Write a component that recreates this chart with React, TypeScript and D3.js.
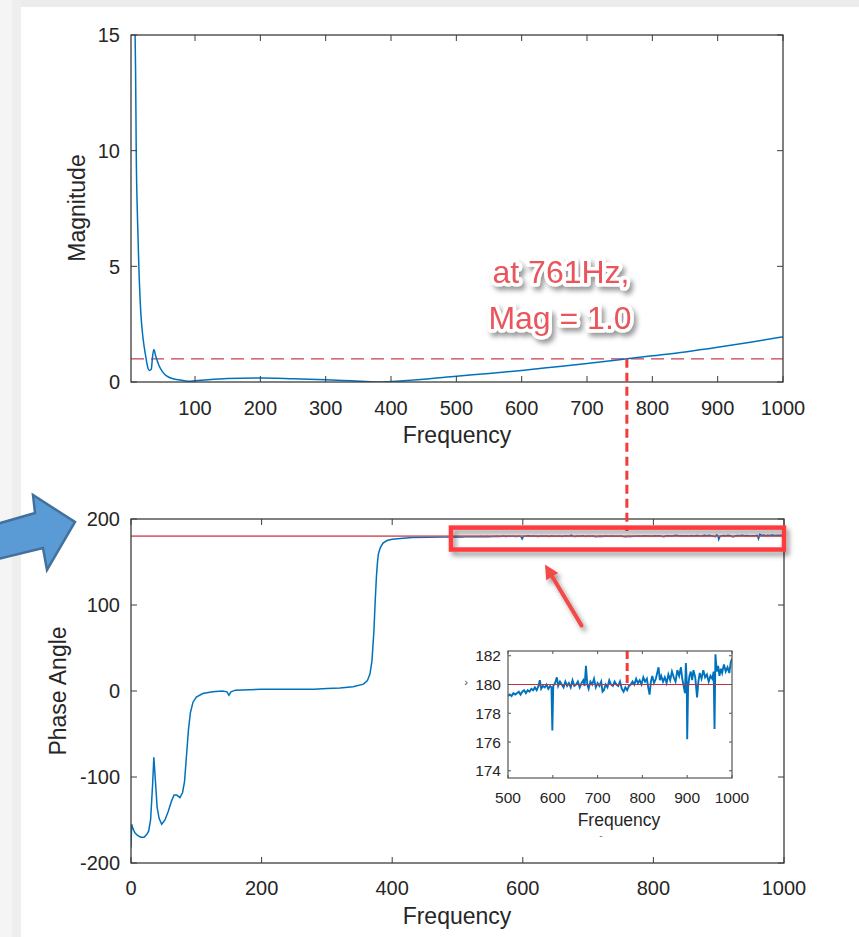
import { useEffect, useRef } from "react";
import * as d3 from "d3";

// magnitude response: [frequency, magnitude]
const magnitude: [number, number][] = [
  [8, 15.5], [9, 13.5], [10, 10], [12, 7], [14, 5], [17, 3], [20, 2], [24, 1.2], [28, 0.6], [30, 0.5],
  [33, 0.55], [35, 1.1], [37, 1.4], [40, 1.1], [45, 0.7], [50, 0.45], [57, 0.25], [65, 0.15], [75, 0.1], [90, 0.03],
  [100, 0.05], [120, 0.1], [150, 0.15], [200, 0.17], [250, 0.14], [300, 0.1], [340, 0.05], [380, 0.0], [400, 0.02], [450, 0.12],
  [500, 0.25], [550, 0.37], [600, 0.5], [650, 0.65], [700, 0.8], [761, 1.0], [800, 1.13], [850, 1.3], [900, 1.5], [950, 1.72],
  [1000, 1.95],
];

// phase below 500 Hz: [frequency, degrees]
const phaseLow: [number, number][] = [
  [0, -182], [1, -155], [3, -160], [6, -165], [10, -168], [15, -170], [20, -170], [24, -167], [27, -163], [30, -150],
  [33, -110], [35, -77], [37, -100], [40, -135], [43, -148], [47, -155], [52, -150], [57, -140], [62, -128], [66, -121],
  [70, -121], [75, -124], [79, -118], [82, -105], [85, -75], [88, -45], [91, -25], [95, -13], [100, -7], [110, -3],
  [125, -1], [140, 0], [147, -1], [150, -5], [153, -1], [160, 1], [200, 2], [250, 2], [280, 2], [300, 3],
  [320, 3.5], [340, 5], [356, 8], [362, 12], [366, 20], [369, 35], [372, 70], [374, 105], [376, 135], [377.5, 150],
  [379, 160], [382, 167], [386, 172], [392, 175], [400, 176.5], [430, 178.5], [480, 179.1], [496, 179.2],
];

// phase 500-1000 Hz (also shown in the inset)
const phaseHigh: [number, number][] = [
  [500, 179.2], [504, 179.3], [508, 179.2], [512, 179.4], [516, 179.3], [520, 179.4], [524, 179.5], [528, 179.3], [532, 179.5], [536, 179.6],
  [540, 179.4], [544, 179.6], [548, 179.5], [552, 179.7], [556, 179.6], [560, 179.8], [564, 179.6], [568, 179.9], [571, 180.3], [574, 179.7],
  [578, 179.9], [582, 179.8], [586, 180.0], [590, 179.7], [594, 179.9], [597, 179.8], [599, 176.8], [601, 179.9], [605, 180.1], [609, 180.5],
  [612, 179.9], [616, 180.2], [620, 180.0], [624, 179.8], [628, 180.2], [632, 179.9], [636, 180.1], [640, 179.8], [644, 180.3], [648, 179.9],
  [652, 180.0], [656, 180.2], [660, 179.8], [664, 180.1], [668, 180.3], [671, 179.9], [674, 181.3], [677, 180.0], [680, 179.7], [684, 180.2],
  [688, 180.0], [692, 180.4], [696, 179.8], [700, 180.1], [704, 179.9], [708, 180.2], [711, 179.5], [714, 179.6], [718, 180.0], [722, 179.8],
  [726, 180.3], [730, 180.0], [734, 179.9], [738, 180.2], [742, 180.0], [746, 179.9], [750, 180.2], [754, 179.7], [758, 179.5], [762, 179.8],
  [766, 179.6], [770, 179.9], [774, 180.0], [778, 180.2], [782, 180.0], [786, 180.4], [790, 180.1], [794, 180.3], [798, 180.0], [802, 180.5],
  [806, 180.2], [810, 180.4], [813, 179.8], [816, 179.3], [819, 180.2], [822, 180.6], [826, 180.1], [830, 180.4], [833, 180.8], [836, 181.2],
  [839, 180.3], [842, 180.6], [846, 180.2], [850, 180.5], [854, 180.1], [858, 180.7], [862, 180.3], [866, 180.9], [870, 180.5], [874, 180.2],
  [878, 181.0], [882, 180.6], [886, 181.2], [889, 180.4], [892, 179.9], [895, 179.4], [897, 181.5], [899, 180.2], [900, 176.2], [902, 179.8],
  [905, 180.6], [908, 180.9], [911, 180.3], [914, 181.0], [918, 180.5], [922, 179.1], [925, 180.2], [928, 180.8], [932, 180.4], [936, 181.0],
  [940, 180.5], [944, 180.7], [948, 180.2], [952, 180.6], [956, 180.4], [959, 180.9], [961, 176.9], [963, 182.1], [966, 180.9], [969, 181.3],
  [972, 180.6], [975, 181.1], [978, 180.8], [982, 181.4], [986, 180.9], [990, 181.2], [994, 180.8], [997, 181.5], [1000, 181.8],
];

const magXTicks = [100, 200, 300, 400, 500, 600, 700, 800, 900, 1000];
const magYTicks = [0, 5, 10, 15];
const phaseXTicks = [0, 200, 400, 600, 800, 1000];
const phaseYTicks = [-200, -100, 0, 100, 200];
const insetXTicks = [500, 600, 700, 800, 900, 1000];
const insetYTicks = [174, 176, 178, 180, 182];

const markFreq = 761;
const markMag = 1.0;
const refPhase = 180;
const boxFreq = [490, 1000];
const boxPhase = [164.5, 190];

const W = 859;
const H = 937;
const FONT = "'Liberation Sans', Arial, Helvetica, sans-serif";
const BLUE = "#0072BD";
const AXIS = "#3c3c3c";
const TEXT = "#262626";

type Sel = d3.Selection<SVGGElement, unknown, null, undefined>;

function frame(
  g: Sel,
  x: d3.ScaleLinear<number, number>,
  y: d3.ScaleLinear<number, number>,
  xTicks: number[],
  yTicks: number[],
  o: { tick: number; font: number; xOff: number; yOff: number; color: string; stroke: number }
) {
  const [x0, x1] = x.range();
  const [y0, y1] = y.range();
  xTicks.forEach((t) => {
    const px = x(t);
    g.append("line").attr("x1", px).attr("x2", px).attr("y1", y0).attr("y2", y0 - o.tick).attr("stroke", o.color);
    g.append("line").attr("x1", px).attr("x2", px).attr("y1", y1).attr("y2", y1 + o.tick).attr("stroke", o.color);
    g.append("text").attr("x", px).attr("y", y0 + o.xOff).attr("text-anchor", "middle")
      .attr("font-size", o.font).attr("fill", TEXT).text(t);
  });
  yTicks.forEach((t) => {
    const py = y(t);
    g.append("line").attr("x1", x0).attr("x2", x0 + o.tick).attr("y1", py).attr("y2", py).attr("stroke", o.color);
    g.append("line").attr("x1", x1).attr("x2", x1 - o.tick).attr("y1", py).attr("y2", py).attr("stroke", o.color);
    g.append("text").attr("x", x0 - o.yOff).attr("y", py).attr("dy", "0.36em").attr("text-anchor", "end")
      .attr("font-size", o.font).attr("fill", TEXT).text(t);
  });
  g.append("rect").attr("x", x0).attr("y", y1).attr("width", x1 - x0).attr("height", y0 - y1)
    .attr("fill", "none").attr("stroke", o.color).attr("stroke-width", o.stroke);
}

export default function App() {
  const svgRef = useRef<SVGSVGElement | null>(null);

  useEffect(() => {
    if (!svgRef.current) return;
    const svg = d3.select(svgRef.current);
    svg.selectAll("*").remove();

    const defs = svg.append("defs");
    const sh = defs.append("filter").attr("id", "shadow")
      .attr("x", "-30%").attr("y", "-60%").attr("width", "160%").attr("height", "220%");
    sh.append("feDropShadow").attr("dx", 3).attr("dy", 4).attr("stdDeviation", 2.5)
      .attr("flood-color", "#000").attr("flood-opacity", 0.4);

    // page background / screenshot frame
    svg.append("rect").attr("width", W).attr("height", H).attr("fill", "#fff");
    svg.append("rect").attr("width", W).attr("height", 7).attr("fill", "#ececec");
    svg.append("rect").attr("width", 12).attr("height", H).attr("fill", "#f5f5f5");
    svg.append("rect").attr("x", 12).attr("width", 9).attr("height", H).attr("fill", "#eeeeee");

    const root = svg.append("g").attr("font-family", FONT);

    // ---------- upper panel: magnitude ----------
    const xT = d3.scaleLinear().domain([2, 1000]).range([131, 783]);
    const yT = d3.scaleLinear().domain([0, 15]).range([382, 35]);

    defs.append("clipPath").attr("id", "clipTop").append("rect")
      .attr("x", 131).attr("y", 35).attr("width", 652).attr("height", 347);

    const top = root.append("g");
    top.append("line").attr("x1", xT(2)).attr("x2", xT(1000)).attr("y1", yT(markMag)).attr("y2", yT(markMag))
      .attr("stroke", "#c9404f").attr("stroke-width", 1.4).attr("stroke-dasharray", "13,7");
    top.append("path").datum(magnitude).attr("clip-path", "url(#clipTop)")
      .attr("d", d3.line<[number, number]>().x((d) => xT(d[0])).y((d) => yT(d[1])).curve(d3.curveMonotoneX))
      .attr("fill", "none").attr("stroke", BLUE).attr("stroke-width", 1.5);
    frame(top, xT, yT, magXTicks, magYTicks, { tick: 6, font: 20, xOff: 33, yOff: 11, color: AXIS, stroke: 1.3 });
    top.append("text").attr("x", 457).attr("y", 443).attr("text-anchor", "middle")
      .attr("font-size", 23).attr("fill", TEXT).text("Frequency");
    top.append("text").attr("transform", "translate(85,208) rotate(-90)").attr("text-anchor", "middle")
      .attr("font-size", 23).attr("fill", TEXT).text("Magnitude");

    // ---------- lower panel: phase ----------
    const xB = d3.scaleLinear().domain([0, 1000]).range([131, 784]);
    const yB = d3.scaleLinear().domain([-200, 200]).range([863, 519]);
    const phaseAll = phaseLow.concat(phaseHigh);

    defs.append("clipPath").attr("id", "clipBot").append("rect")
      .attr("x", 131).attr("y", 519).attr("width", 653).attr("height", 344);

    const bot = root.append("g");
    bot.append("path").datum(phaseAll).attr("clip-path", "url(#clipBot)")
      .attr("d", d3.line<[number, number]>().x((d) => xB(d[0])).y((d) => yB(d[1])))
      .attr("fill", "none").attr("stroke", BLUE).attr("stroke-width", 1.5);
    bot.append("line").attr("x1", xB(0)).attr("x2", xB(1000)).attr("y1", yB(refPhase)).attr("y2", yB(refPhase))
      .attr("stroke", "#d2505f").attr("stroke-opacity", 0.85).attr("stroke-width", 1.8);
    frame(bot, xB, yB, phaseXTicks, phaseYTicks, { tick: 6, font: 20, xOff: 32, yOff: 11, color: AXIS, stroke: 1.3 });
    bot.append("text").attr("x", 457).attr("y", 924).attr("text-anchor", "middle")
      .attr("font-size", 23).attr("fill", TEXT).text("Frequency");
    bot.append("text").attr("transform", "translate(66,691) rotate(-90)").attr("text-anchor", "middle")
      .attr("font-size", 23).attr("fill", TEXT).text("Phase Angle");

    // ---------- inset zoom of 500-1000 Hz ----------
    const xI = d3.scaleLinear().domain([500, 1000]).range([508, 732]);
    const yI = d3.scaleLinear().domain([173.5, 182.33]).range([778, 651]);
    defs.append("clipPath").attr("id", "clipIn").append("rect")
      .attr("x", 508).attr("y", 651).attr("width", 224).attr("height", 127);

    const ins = root.append("g");
    ins.append("rect").attr("x", 508).attr("y", 651).attr("width", 224).attr("height", 127).attr("fill", "#fff");
    ins.append("path").datum(phaseHigh).attr("clip-path", "url(#clipIn)")
      .attr("d", d3.line<[number, number]>().x((d) => xI(d[0])).y((d) => yI(d[1])))
      .attr("fill", "none").attr("stroke", BLUE).attr("stroke-width", 1.9);
    ins.append("line").attr("x1", xI(500)).attr("x2", xI(1000)).attr("y1", yI(refPhase)).attr("y2", yI(refPhase))
      .attr("stroke", "#c8303f").attr("stroke-width", 1.2);
    ins.append("line").attr("x1", xI(766)).attr("x2", xI(766)).attr("y1", yI(182.33)).attr("y2", yI(refPhase))
      .attr("stroke", "#f23c3c").attr("stroke-width", 3).attr("stroke-dasharray", "8,4");
    frame(ins, xI, yI, insetXTicks, insetYTicks, { tick: 3, font: 15.5, xOff: 25, yOff: 7, color: "#555", stroke: 1.2 });
    ins.append("text").attr("x", 619).attr("y", 826).attr("text-anchor", "middle")
      .attr("font-size", 17.5).attr("fill", TEXT).text("Frequency");
    ins.append("text").attr("x", 466).attr("y", 686).attr("text-anchor", "middle")
      .attr("font-size", 11).attr("fill", "#444").text("›");
    ins.append("text").attr("x", 601).attr("y", 839).attr("text-anchor", "middle")
      .attr("font-size", 10).attr("fill", "#777").text("-");

    // ---------- annotations ----------
    const ann = root.append("g");
    ann.append("line")
      .attr("x1", xT(markFreq)).attr("x2", xT(markFreq))
      .attr("y1", yT(markMag)).attr("y2", yB(186))
      .attr("stroke", "#f23c3c").attr("stroke-width", 3).attr("stroke-dasharray", "9,5");
    ann.append("rect")
      .attr("x", xB(boxFreq[0])).attr("y", yB(boxPhase[1]))
      .attr("width", xB(boxFreq[1]) - xB(boxFreq[0])).attr("height", yB(boxPhase[0]) - yB(boxPhase[1]))
      .attr("fill", "none").attr("stroke", "#ff3b3f").attr("stroke-width", 4.5).attr("filter", "url(#shadow)");

    // red pointer arrow from inset to box
    const tail: [number, number] = [xB(690), yB(76)];
    const tip: [number, number] = [xB(634), yB(147)];
    const ang = Math.atan2(tip[1] - tail[1], tip[0] - tail[0]);
    const hl = 14, hw = 7;
    const bx = tip[0] - hl * Math.cos(ang), by = tip[1] - hl * Math.sin(ang);
    const arr = ann.append("g").attr("filter", "url(#shadow)");
    arr.append("line").attr("x1", tail[0]).attr("y1", tail[1]).attr("x2", bx).attr("y2", by)
      .attr("stroke", "#f44848").attr("stroke-width", 4).attr("stroke-linecap", "round");
    arr.append("path")
      .attr("d", `M${tip[0]},${tip[1]} L${bx + hw * Math.sin(ang)},${by - hw * Math.cos(ang)} L${bx - hw * Math.sin(ang)},${by + hw * Math.cos(ang)} Z`)
      .attr("fill", "#f44848");

    // callout text
    const lbl = ann.append("g").attr("filter", "url(#shadow)").attr("text-anchor", "middle")
      .attr("font-size", 32).attr("fill", "#e9555a").attr("stroke", "#fff").attr("stroke-width", 7)
      .attr("stroke-linejoin", "round").attr("paint-order", "stroke");
    lbl.append("text").attr("x", 561).attr("y", 283).text(`at ${markFreq}Hz,`);
    lbl.append("text").attr("x", 560).attr("y", 329).text(`Mag = ${markMag.toFixed(1)}`);

    // big blue arrow pointing at the phase axis
    const blue = d3.path();
    blue.moveTo(-10, 526);
    blue.lineTo(35, 513);
    blue.lineTo(33, 495);
    blue.lineTo(75, 522);
    blue.lineTo(47, 570);
    blue.lineTo(43, 548);
    blue.lineTo(-10, 561);
    blue.closePath();
    root.append("path").attr("d", blue.toString()).attr("fill", "#5b9bd5")
      .attr("stroke", "#41719c").attr("stroke-width", 2.5).attr("stroke-linejoin", "miter");
  }, []);

  return (
    <svg
      ref={svgRef}
      width={W}
      height={H}
      viewBox={`0 0 ${W} ${H}`}
      style={{ position: "absolute", left: 0, top: 0 }}
    ></svg>
  );
}
